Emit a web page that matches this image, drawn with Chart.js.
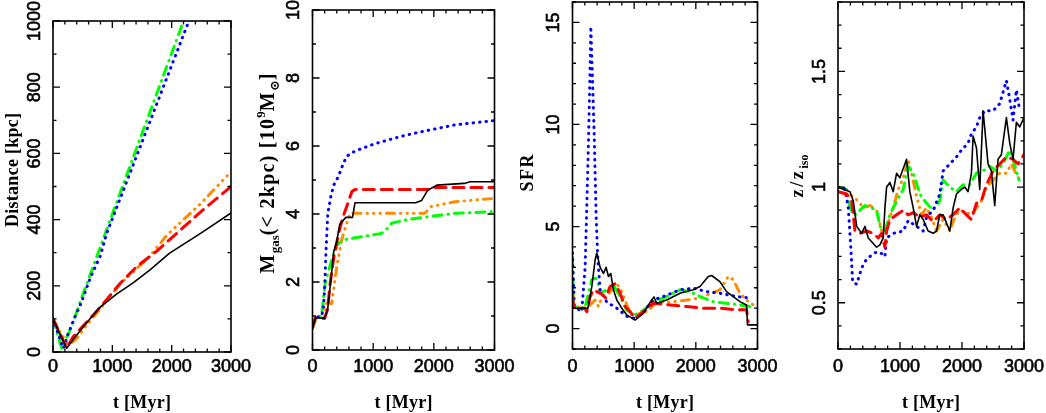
<!DOCTYPE html>
<html><head><meta charset="utf-8">
<script src="https://cdn.jsdelivr.net/npm/chart.js@4.4.0/dist/chart.umd.min.js"></script>
<style>
html,body{margin:0;padding:0;background:#fff;overflow:hidden}
#wrap{position:relative;width:1046px;height:413px;background:#fff}
#wrap canvas{position:absolute;left:0;top:0}
</style></head><body><div id="wrap">
<canvas id="c1" width="1046" height="413"></canvas>
<canvas id="c2" width="1046" height="413"></canvas>
<canvas id="c3" width="1046" height="413"></canvas>
<canvas id="c4" width="1046" height="413"></canvas>
</div>
<script>
// ---------- tick labels ----------
const xTickLabels = [0, 1000, 2000, 3000];
const p1YTickLabels = [0, 200, 400, 600, 800, 1000];
const p2YTickLabels = [0, 2, 4, 6, 8, 10];
const p3YTickLabels = [0, 5, 10, 15];
const p4YTickLabels = [0.5, 1, 1.5];
const xTitle = 't [Myr]';

// ---------- Panel 1: Distance [kpc] ----------
const p1BlackT = [0,100,230,290,510,790,1070,1350,1635,1960,2500,3000];
const p1BlackV = [100,61,11,26,76,135,175,209,248,298,360,420];
const p1RedT = [0,100,230,340,510,680,850,1130,1410,1750,2000,2500,3000];
const p1RedV = [100,62,13,46,79,112,147,207,258,305,345,425,500];
const p1BlueT = [0,174,258,371,483,624,792,904,2290,3000];
const p1BlueV = [100,11,56,106,152,222,288,358,1000,1330];
const p1GreenT = [0,146,287,511,708,933,2200,3000];
const p1GreenV = [100,11,66,177,273,384,1000,1390];
const p1OrangeT = [0,120,240,330,420,510,700,1130,1635,1920,2500,3000];
const p1OrangeV = [100,60,25,30,45,68,110,205,290,353,450,545];

// ---------- Panel 2: M_gas(<2kpc) ----------
const p2BlackT = [0,50,200,250,300,350,400,450,500,550,660,700,1700,1800,1900,2050,2500,2600,3000];
const p2BlackV = [0.65,0.95,0.93,1.2,2.0,2.9,3.2,3.7,3.8,3.9,3.9,4.33,4.33,4.4,4.7,4.85,4.9,4.95,4.95];
const p2RedT = [0,50,200,250,290,350,430,500,560,650,700,1900,2000,3000];
const p2RedV = [0.65,0.95,0.93,1.2,1.96,2.7,3.43,3.9,4.2,4.66,4.72,4.72,4.78,4.78];
const p2BlueT = [0,50,150,180,200,220,252,300,350,427,500,563,700,1000,1248,1500,1795,2343,3000];
const p2BlueV = [0.65,0.95,1.0,1.23,1.8,2.8,4.0,4.5,4.85,5.1,5.45,5.7,5.85,6.05,6.18,6.3,6.42,6.62,6.75];
const p2GreenT = [0,50,150,208,260,318,400,509,646,974,1138,1250,1303,1522,1905,2343,3000];
const p2GreenV = [0.65,0.95,1.0,1.96,2.3,2.65,3.09,3.24,3.28,3.38,3.43,3.6,3.73,3.82,3.92,4.02,4.07];
const p2OrangeT = [0,70,200,230,318,400,481,560,618,700,1850,1960,2343,3000];
const p2OrangeV = [0.64,0.98,0.98,1.37,1.37,2.45,3.24,3.7,4.02,4.02,4.02,4.22,4.36,4.46];

// ---------- Panel 3: SFR ----------
const p3BlackT = [0,50,250,313,367,394,448,502,545,583,620,664,718,799,880,1014,1149,1284,1322,1365,1527,1743,1959,2067,2202,2256,2390,2498,2714,2822,2838,3000];
const p3BlackV = [1.0,1.0,1.0,2.06,3.37,3.7,3.0,2.7,3.0,2.55,2.7,1.9,1.4,1.0,0.67,0.42,0.75,1.4,1.55,1.24,1.4,1.73,1.9,2.06,2.55,2.6,2.3,1.81,1.32,1.16,0.18,0.18];
const p3RedT = [0,20,200,232,286,340,400,470,540,610,691,772,853,934,1014,1149,1311,1581,1851,2121,2390,2660,2822,2849];
const p3RedV = [1.6,1.0,1.0,0.83,1.57,1.9,1.8,1.7,1.5,2.06,2.2,1.73,1.08,0.83,0.5,0.83,1.24,1.16,1.08,1.0,1.0,0.92,0.92,0.35];
const p3BlueT = [0,30,150,205,232,259,286,297,351,383,410,448,556,718,880,1014,1149,1311,1473,1743,1959,2175,2390,2660,2900];
const p3BlueV = [3.7,1.08,0.83,3.0,6.0,9.1,12.8,14.8,9.6,5.5,3.4,1.9,1.3,1.0,0.6,0.5,0.83,1.4,1.57,1.9,1.98,1.81,1.73,1.57,1.49];
const p3GreenT = [0,16,200,232,313,367,405,448,556,664,772,880,1014,1149,1311,1527,1743,1905,2067,2283,2498,2714,2876];
const p3GreenV = [3.5,1.08,1.0,1.4,2.4,2.47,2.4,1.73,1.9,2.14,1.57,0.9,0.67,0.9,1.3,1.57,1.9,1.81,1.57,1.32,1.24,1.16,1.08];
const p3OrangeT = [0,27,232,286,367,421,475,560,640,718,800,934,1014,1203,1365,1581,1851,2067,2390,2525,2606,2714,2876,3000];
const p3OrangeV = [1.9,1.08,1.0,1.16,1.4,1.08,1.5,1.6,1.9,2.2,1.8,0.75,0.67,0.83,1.3,1.3,1.4,1.5,1.9,2.55,2.4,1.73,1.24,1.08];

// ---------- Panel 4: z/z_iso ----------
const p4BlackT = [0,193,247,301,381,435,488,623,676,730,757,784,837,891,945,998,1106,1159,1213,1267,1320,1374,1454,1535,1589,1642,1696,1803,1857,1911,1991,2045,2098,2152,2179,2233,2286,2340,2420,2474,2528,2581,2635,2716,2770,2823,2877,2931,3000];
const p4BlackV = [1.0,0.98,0.94,0.83,0.80,0.83,0.78,0.74,0.75,0.78,0.91,1.0,1.02,0.98,1.06,1.04,1.12,0.98,0.91,0.83,0.88,0.86,0.81,0.80,0.81,0.88,0.88,0.81,0.91,0.97,0.99,1.0,0.98,1.06,1.22,1.17,0.99,1.33,1.10,1.07,0.92,1.12,1.14,1.30,1.19,1.12,1.28,1.26,1.30];
const p4RedT = [0,140,220,274,354,462,569,649,703,757,784,837,945,1052,1132,1213,1320,1428,1535,1642,1749,1857,1964,2072,2152,2233,2313,2394,2501,2608,2716,2823,2904,3000];
const p4RedV = [0.98,0.97,0.94,0.81,0.80,0.81,0.80,0.78,0.80,0.74,0.81,0.86,0.88,0.90,0.88,0.89,0.87,0.88,0.85,0.88,0.86,0.88,0.91,0.88,0.86,0.93,0.94,1.01,1.07,1.10,1.13,1.12,1.10,1.14];
const p4BlueT = [0,113,166,204,236,301,381,462,623,730,757,784,891,1052,1132,1213,1374,1428,1535,1642,1696,1803,1911,1991,2098,2152,2233,2286,2367,2501,2608,2716,2770,2823,2877,2931];
const p4BlueV = [1.0,0.99,0.91,0.75,0.59,0.58,0.65,0.69,0.72,0.71,0.70,0.78,0.80,0.81,0.855,0.84,0.81,0.87,0.9,0.97,1.07,1.1,1.13,1.16,1.19,1.23,1.26,1.30,1.33,1.33,1.36,1.46,1.38,1.29,1.42,1.33];
const p4GreenT = [0,140,193,274,354,435,542,623,676,757,837,945,1052,1132,1213,1320,1428,1535,1642,1696,1803,1911,2018,2125,2233,2340,2447,2555,2662,2769,2823,2877,2920];
const p4GreenV = [1.0,0.99,0.91,0.88,0.90,0.92,0.91,0.90,0.83,0.81,0.88,0.94,0.99,1.09,1.06,0.97,0.93,0.90,0.94,1.03,1.0,0.98,1.01,1.01,1.06,1.07,1.09,1.07,1.10,1.16,1.12,1.07,1.03];
const p4OrangeT = [0,140,247,354,408,515,623,703,784,891,972,1052,1132,1186,1267,1347,1428,1508,1589,1696,1803,1884,1964,2072,2152,2233,2313,2394,2501,2608,2716,2796,2850,2904,3000];
const p4OrangeV = [0.98,0.97,0.96,0.93,0.91,0.92,0.90,0.81,0.83,0.91,0.99,1.04,1.12,1.06,0.96,0.88,0.91,0.87,0.81,0.86,0.81,0.87,0.90,0.89,0.88,0.91,0.94,1.0,1.03,1.06,1.06,1.10,1.07,1.04,1.04];

// ---------- styles ----------
const STY = {
  black:  {c:'#000000', w:1.6, d:[], cap:'butt'},
  red:    {c:'#ff0000', w:3, d:[11,7], cap:'round'},
  blue:   {c:'#0000ff', w:3, d:[0.5,6], cap:'round'},
  green:  {c:'#00ff00', w:3, d:[9,6,0.5,6], cap:'round'},
  orange: {c:'#ff8c00', w:3, d:[8,6,0.5,6,0.5,6,0.5,6], cap:'round'}
};
function ds(name, t, v, order){
  const s = STY[name];
  return {label:name, data:t.map((x,i)=>({x:x, y:v[i]})), borderColor:s.c, borderWidth:s.w,
    borderDash:s.d, borderCapStyle:s.cap, borderJoinStyle:'round', pointRadius:0, tension:0, fill:false, order:order};
}

const TITLE_FONT = '"Liberation Serif","DejaVu Serif",serif';
const TICK_FONT = '18px "Liberation Sans",Arial,sans-serif';

// draws a title made of segments (normal / sub / superscript); extra length is spread after full-size characters
function drawRich(ctx, segs, cx, cy, rot, target){
  ctx.save();
  const chars = [];
  let total = 0;
  segs.forEach(s => {
    ctx.font = 'bold ' + s.size + 'px ' + TITLE_FONT;
    Array.from(s.t).forEach(ch => { const w = ctx.measureText(ch).width; chars.push({ch:ch, size:s.size, dy:s.dy||0, w:w, main:!s.dy}); total += w; });
  });
  chars.forEach((c, i) => { c.g = (i < chars.length - 1 && c.main) ? 1 : 0; });
  const slots = chars.reduce((s, c) => s + c.g, 0);
  let gap = 0, sc = 1;
  if (target && target > total && slots > 0) gap = (target - total)/slots;
  else if (target && target < total) sc = target/total;
  const full = total + gap*slots;
  ctx.translate(cx, cy); ctx.rotate(rot); ctx.scale(sc, 1);
  ctx.fillStyle = '#000'; ctx.textAlign = 'left'; ctx.textBaseline = 'alphabetic';
  let xx = -full/2;
  chars.forEach(c => { ctx.font = 'bold ' + c.size + 'px ' + TITLE_FONT; ctx.fillText(c.ch, xx, 6 + c.dy); xx += c.w + gap*c.g; });
  ctx.restore();
}

function tickText(ctx, txt, x, y){
  ctx.fillText(txt, x, y);
  ctx.strokeText(txt, x, y);
}

const framePlugin = {
  id:'frame',
  afterDraw(chart, args, o){
    const ctx = chart.ctx, a = chart.chartArea, xs = chart.scales.x, ys = chart.scales.y;
    ctx.save();
    ctx.strokeStyle = '#000'; ctx.lineWidth = 1.6;
    ctx.strokeRect(a.left, a.top, a.right - a.left, a.bottom - a.top);
    ctx.lineWidth = 1.3;
    const isMaj = (v, m) => Math.abs(v/m - Math.round(v/m)) < 1e-6;
    ctx.beginPath();
    let n = Math.round((o.xMax - o.xMin)/o.xMinor);
    for (let i=0;i<=n;i++){
      const v = o.xMin + i*o.xMinor, px = xs.getPixelForValue(v), L = isMaj(v,o.xMajor)?7:3.5;
      ctx.moveTo(px, a.bottom); ctx.lineTo(px, a.bottom - L);
      ctx.moveTo(px, a.top); ctx.lineTo(px, a.top + L);
    }
    n = Math.round((o.yMax - o.yMin)/o.yMinor);
    for (let i=0;i<=n;i++){
      const v = o.yMin + i*o.yMinor, py = ys.getPixelForValue(v), L = isMaj(v,o.yMajor)?7:3.5;
      ctx.moveTo(a.left, py); ctx.lineTo(a.left + L, py);
      ctx.moveTo(a.right, py); ctx.lineTo(a.right - L, py);
    }
    ctx.stroke();
    ctx.fillStyle = '#000'; ctx.strokeStyle = '#000'; ctx.lineWidth = 0.6;
    ctx.font = TICK_FONT; ctx.textAlign = 'center'; ctx.textBaseline = 'middle';
    xTickLabels.forEach(v => tickText(ctx, String(v), xs.getPixelForValue(v), 367));
    o.yLabels.forEach(v => {
      ctx.save(); ctx.translate(a.left - 18, ys.getPixelForValue(v)); ctx.rotate(-Math.PI/2);
      tickText(ctx, String(v), 0, 0); ctx.restore();
    });
    ctx.restore();
    drawRich(ctx, [{t:xTitle, size:18}], (a.left + a.right)/2, 402, 0, 58);
    drawRich(ctx, o.title, o.titleX, o.titleY, -Math.PI/2, o.titleLen);
  }
};

function makeChart(id, box, yMin, yMax, yMajor, yMinor, yLabels, title, titleX, titleY, titleLen, sets){
  new Chart(document.getElementById(id), {
    type:'line',
    data:{datasets:sets},
    options:{
      responsive:false, animation:false, events:[],
      layout:{padding:{left:box[0], right:1046 - box[1], top:box[2], bottom:413 - box[3]}},
      scales:{
        x:{type:'linear', min:0, max:3000, display:false},
        y:{type:'linear', min:yMin, max:yMax, display:false}
      },
      plugins:{legend:{display:false}, tooltip:{enabled:false},
        frame:{xMin:0, xMax:3000, xMajor:1000, xMinor:200, yMin:yMin, yMax:yMax, yMajor:yMajor, yMinor:yMinor,
          yLabels:yLabels, title:title, titleX:titleX, titleY:titleY, titleLen:titleLen}}
    },
    plugins:[framePlugin]
  });
}

makeChart('c1', [53, 231, 21, 352], 0, 1000, 200, 100, p1YTickLabels,
  [{t:'Distance [kpc]', size:18}], 12, 170, 114,
  [ds('black',p1BlackT,p1BlackV,1), ds('red',p1RedT,p1RedV,2), ds('blue',p1BlueT,p1BlueV,3), ds('green',p1GreenT,p1GreenV,4), ds('orange',p1OrangeT,p1OrangeV,5)]);

makeChart('c2', [312.5, 494.5, 10, 350], 0, 10, 2, 1, p2YTickLabels,
  [{t:'M', size:20}, {t:'gas', size:13, dy:5}, {t:'(< 2kpc) [10', size:20}, {t:'9', size:13, dy:-9}, {t:'M', size:20}, {t:'\u2299', size:13, dy:5}, {t:']', size:20}],
  268, 173.5, 200,
  [ds('black',p2BlackT,p2BlackV,1), ds('red',p2RedT,p2RedV,2), ds('blue',p2BlueT,p2BlueV,3), ds('green',p2GreenT,p2GreenV,4), ds('orange',p2OrangeT,p2OrangeV,5)]);

makeChart('c3', [572.5, 757.5, 2, 349], -1, 16, 5, 1, p3YTickLabels,
  [{t:'SFR', size:18}], 527, 173, 37,
  [ds('black',p3BlackT,p3BlackV,1), ds('red',p3RedT,p3RedV,2), ds('blue',p3BlueT,p3BlueV,3), ds('green',p3GreenT,p3GreenV,4), ds('orange',p3OrangeT,p3OrangeV,5)]);

makeChart('c4', [838, 1024, 2, 349], 0.3, 1.8, 0.5, 0.1, p4YTickLabels,
  [{t:'z/z', size:18}, {t:'iso', size:12, dy:5}], 797, 176, 43,
  [ds('black',p4BlackT,p4BlackV,1), ds('red',p4RedT,p4RedV,2), ds('blue',p4BlueT,p4BlueV,3), ds('green',p4GreenT,p4GreenV,4), ds('orange',p4OrangeT,p4OrangeV,5)]);
</script>
</body></html>
